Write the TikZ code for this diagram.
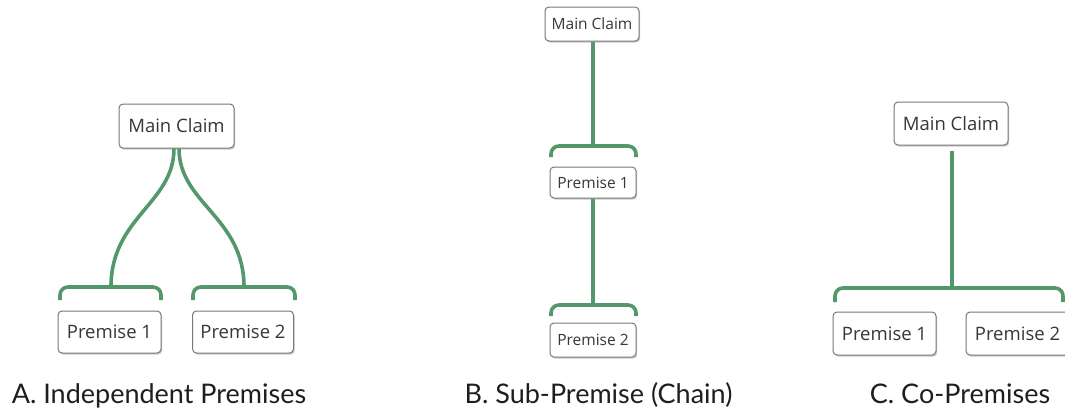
\documentclass[tikz,border=0pt]{standalone}
\usepackage{fontspec}
\setmainfont{Open Sans}
\newfontfamily\labfont{Lato}
\usetikzlibrary{shadows}
\definecolor{linkgreen}{RGB}{82,152,106}
\definecolor{boxborder}{RGB}{120,120,120}
\definecolor{boxtext}{RGB}{55,55,55}
\definecolor{labtext}{RGB}{30,30,30}
\tikzset{
  claimbox/.style={draw=boxborder, line width=1pt, fill=white, rounded corners=4pt,
    inner sep=0pt, text=boxtext,
    drop shadow={shadow xshift=1.2pt, shadow yshift=-1.6pt, opacity=0.35, fill=black!60}},
  bigbox/.style={claimbox, font=\fontsize{18.5}{20}\selectfont},
  smallbox/.style={claimbox, font=\fontsize{15.5}{17}\selectfont},
  link/.style={draw=linkgreen, line width=3.6pt},
  bracketline/.style={draw=linkgreen, line width=3.6pt, rounded corners=8pt},
  caption/.style={font=\labfont\fontsize{27}{30}\selectfont, text=labtext, anchor=base, inner sep=0pt}
}
\begin{document}
\begin{tikzpicture}[x=1pt,y=-1pt]
\useasboundingbox (0,0) rectangle (1065,410);
\clip (0,0) rectangle (1065,410);
% ---------- Panel A ----------
\node[bigbox, minimum width=115pt, minimum height=44pt] (mcA) at (176.5,126) {Main Claim};
\node[bigbox, minimum width=103pt, minimum height=42pt] (p1A) at (109.5,332) {Premise 1};
\node[bigbox, minimum width=101pt, minimum height=42pt] (p2A) at (243,332) {Premise 2};
\coordinate (bA1) at (111,287);
\coordinate (bA2) at (244,287);
\draw[link] ([xshift=-2.5pt]mcA.south) .. controls +(0,55) and +(0,-70) .. (bA1);
\draw[link] ([xshift=2.5pt]mcA.south) .. controls +(0,55) and +(0,-70) .. (bA2);
\draw[bracketline] (60,300) -- (60,287) -- (bA1) -- (161,287) -- (161,300);
\draw[bracketline] (193,300) -- (193,287) -- (bA2) -- (295,287) -- (295,300);
\node[caption] (capA) at (159,403) {A. Independent Premises};
% ---------- Panel B ----------
\node[smallbox, minimum width=94pt, minimum height=34pt] (mcB) at (592,24) {Main Claim};
\node[smallbox, minimum width=86pt, minimum height=31pt] (p1B) at (593,182.5) {Premise 1};
\node[smallbox, minimum width=86pt, minimum height=34pt] (p2B) at (593,340) {Premise 2};
\coordinate (bB1) at (593,146);
\coordinate (bB2) at (593,305);
\draw[link] (mcB.south -| bB1) -- (bB1);
\draw[bracketline] (551,157) -- (551,146) -- (bB1) -- (636,146) -- (636,157);
\draw[link] (p1B.south) -- (bB2);
\draw[bracketline] (551,316) -- (551,305) -- (bB2) -- (636,305) -- (636,316);
\node[caption] (capB) at (598.5,403) {B. Sub-Premise (Chain)};
% ---------- Panel C ----------
\node[bigbox, minimum width=114pt, minimum height=43pt] (mcC) at (951,123.5) {Main Claim};
\node[bigbox, minimum width=103pt, minimum height=43pt] (p1C) at (884.5,333.5) {Premise 1};
\node[bigbox, minimum width=103pt, minimum height=43pt] (p2C) at (1017.5,333.5) {Premise 2};
\coordinate (bC) at (952,288);
\draw[link] ([yshift=-5pt]mcC.south -| bC) -- (bC);
\draw[bracketline] (835,302) -- (835,288) -- (bC) -- (1063,288) -- (1063,302);
\node[caption] (capC) at (960,403) {C. Co-Premises};
\end{tikzpicture}
\end{document}
